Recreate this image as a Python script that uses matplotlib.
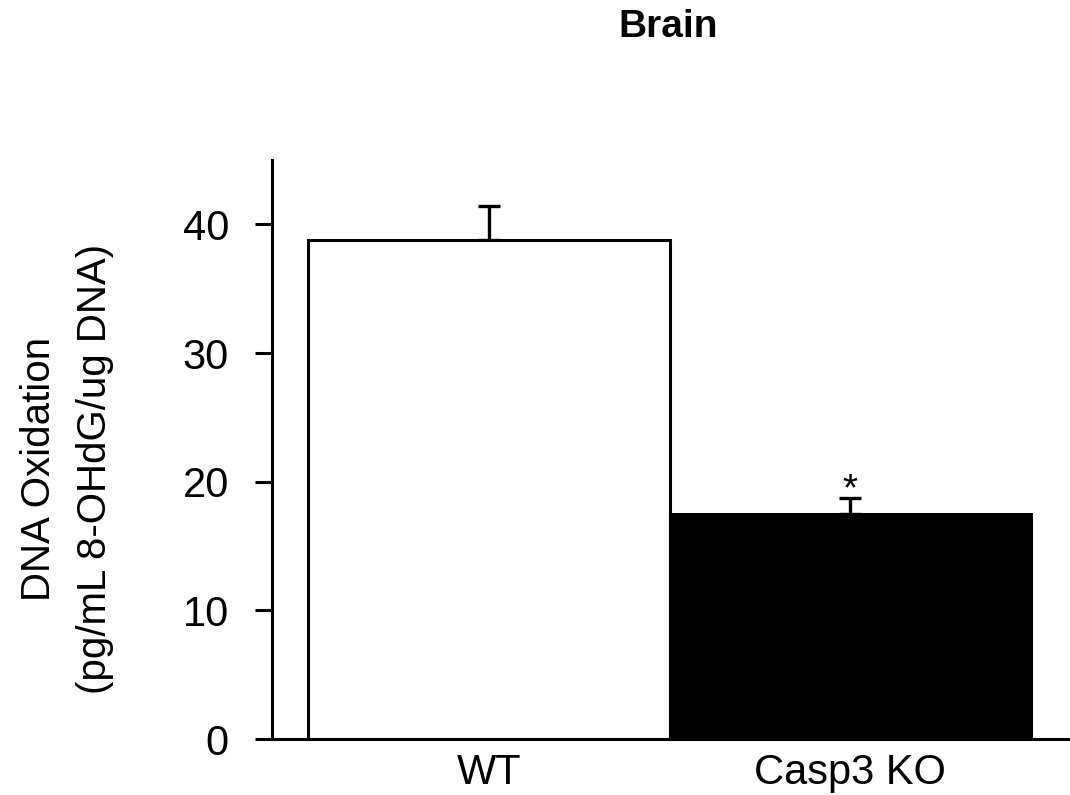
import matplotlib
matplotlib.use("Agg")
import matplotlib.pyplot as plt

categories = ["WT", "Casp3 KO"]
values = [38.8, 17.5]
errors = [2.6, 1.2]
colors = ["white", "black"]
yticks = [0, 10, 20, 30, 40]

plt.rcParams['font.family'] = ['Liberation Sans', 'DejaVu Sans']

fig = plt.figure(figsize=(10.7, 7.95), dpi=100)
ax = fig.add_axes([0.2542, 0.0704, 0.7448, 0.7283])

x = list(range(len(categories)))
ax.bar(x, values, width=1.0, color=colors, edgecolor="black", linewidth=2.2, zorder=2)
ax.errorbar(x, values, yerr=[[0, 0], errors], fmt="none", ecolor="black",
            elinewidth=2.4, capsize=8, capthick=2.4, zorder=1)

ax.text(1, values[1] + errors[1] - 0.8, "*", ha="center", va="bottom", fontsize=28)

ax.set_xlim(-0.6, 1.605)
ax.set_ylim(0, 45)
ax.set_yticks(yticks)
ax.set_xticks(x)
ax.set_xticklabels(categories)

for s in ["top", "right"]:
    ax.spines[s].set_visible(False)
for s in ["left", "bottom"]:
    ax.spines[s].set_linewidth(2.2)

ax.tick_params(axis="y", direction="out", length=12, width=2.2, pad=19, labelsize=30)
ax.tick_params(axis="x", length=0, pad=10, labelsize=30)

fig.text(0.0625, 0.41, "DNA Oxidation\n(pg/mL 8-OHdG/ug DNA)", rotation=90,
         ha="center", va="center", multialignment="center", fontsize=29, linespacing=1.6)

fig.text(0.624, 0.966, "Brain", ha="center", va="center", fontsize=28, fontweight="bold")

fig.savefig("out.png", dpi=100)
